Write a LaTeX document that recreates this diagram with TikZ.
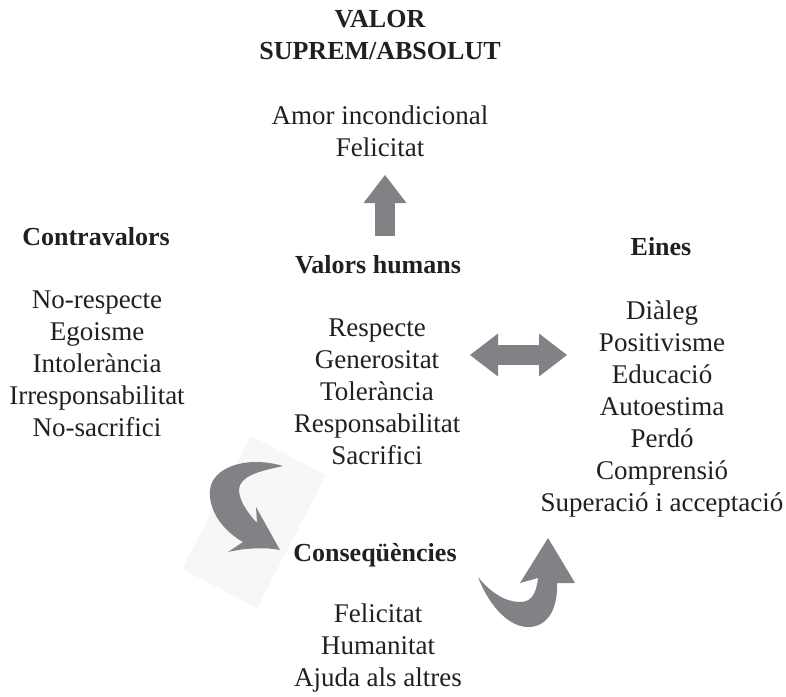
\documentclass[tikz,border=0pt]{standalone}
\usepackage{fontspec}
\setmainfont{Liberation Serif}
\usepackage{tikz}
\usetikzlibrary{arrows.meta}
\definecolor{arrowgray}{RGB}{128,130,134}
\definecolor{ink}{RGB}{35,31,32}
\tikzset{
  txt/.style={align=center,inner sep=0pt,text=ink,font=\fontsize{27}{32}\selectfont},
  head/.style={txt,font=\fontsize{26}{32}\selectfont\bfseries},
  bigtip/.tip={Triangle[width=43pt,length=28pt,line width=0pt]},
  blockarrow/.style={draw=arrowgray,line width=20pt,-bigtip},
  dblarrow/.style={draw=arrowgray,line width=20pt,bigtip-bigtip},
}
\begin{document}
\begin{tikzpicture}[x=1pt,y=-1pt]
  \useasboundingbox (0,0) rectangle (786,696);
  \fill[black!3] (257,608) -- (326,475) -- (251,436) -- (182,569) -- cycle;
  \node[head] (vsup) at (380,35) {VALOR\\SUPREM/ABSOLUT};
  \node[txt] (vsuplist) at (380,131) {Amor incondicional\\Felicitat};
  \node[head] (contra) at (96,237) {Contravalors};
  \node[txt] (contralist) at (97,364) {No-respecte\\Egoisme\\Intolerància\\Irresponsabilitat\\No-sacrifici};
  \node[head] (vhum) at (378,265) {Valors humans};
  \node[txt] (vhumlist) at (377,392) {Respecte\\Generositat\\Tolerància\\Responsabilitat\\Sacrifici};
  \node[head] (eines) at (661,247) {Eines};
  \node[txt] (eineslist) at (662,409) {Diàleg\\Positivisme\\Educació\\Autoestima\\Perdó\\Comprensió\\Superació i acceptació};
  \node[head] (conseq) at (375,555) {Conseqüències};
  \node[txt] (conseqlist) at (378,648) {Felicitat\\Humanitat\\Ajuda als altres};
  \coordinate (upfoot) at (385,236);
  \coordinate (uptip) at (385,175);
  \coordinate (dbleft) at (470,355);
  \coordinate (dbright) at (567,355);
  \draw[blockarrow] (upfoot) -- (uptip);
  \draw[dblarrow] (dbleft) -- (dbright);
  \fill[arrowgray] (283,466) .. controls (245,455) and (212,468) .. (210,490)
    .. controls (208,512) and (225,532) .. (243,542) -- (228,552)
    .. controls (245,548) and (265,547) .. (280,550) -- (256,507)
    -- (257,523) .. controls (245,510) and (236,495) .. (240,485)
    .. controls (245,474) and (265,470) .. (283,466) -- cycle;
  \fill[arrowgray] (478,577) .. controls (490,608) and (510,627) .. (528,627)
    .. controls (550,627) and (558,605) .. (557,583) -- (575,583) -- (548,538)
    -- (520,583) -- (538,578) .. controls (536,596) and (530,602) .. (520,602)
    .. controls (505,602) and (490,592) .. (478,577) -- cycle;
\end{tikzpicture}
\end{document}
